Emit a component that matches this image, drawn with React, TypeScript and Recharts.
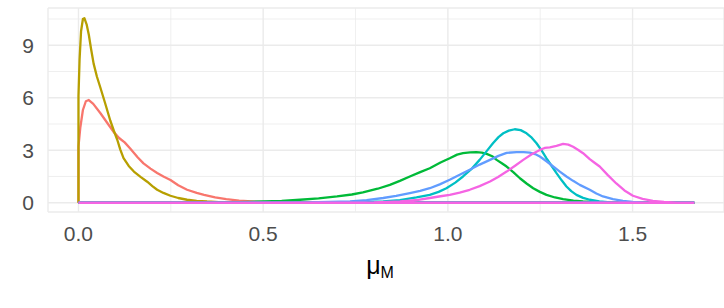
import { LineChart, Line, XAxis, YAxis, CartesianGrid, ReferenceLine } from 'recharts'

// densities of mu_M, one curve per group (ggplot hue palette)
const COLORS = ['#F8766D', '#B79F00', '#00BA38', '#00BFC4', '#619CFF', '#F564E3']

const redPts = [
  [0, 3.2], [0.005, 4.3], [0.012, 5.3], [0.02, 5.8], [0.028, 5.87], [0.04, 5.65], [0.06, 5.1],
  [0.08, 4.5], [0.095, 4.05], [0.11, 3.7], [0.125, 3.45], [0.14, 3.1], [0.16, 2.6], [0.176, 2.25],
  [0.195, 1.95], [0.213, 1.7], [0.23, 1.5], [0.249, 1.3], [0.27, 1.0], [0.294, 0.74], [0.32, 0.56],
  [0.34, 0.45], [0.37, 0.3], [0.4, 0.2], [0.435, 0.12], [0.47, 0.07], [0.51, 0.03], [0.55, 0.01],
]
const olivePts = [
  [0, 6.1], [0.003, 8.2], [0.007, 9.8], [0.012, 10.5], [0.016, 10.55], [0.022, 10.2], [0.028, 9.6],
  [0.034, 8.8], [0.041, 7.95], [0.05, 7.2], [0.059, 6.6], [0.072, 5.7], [0.086, 4.7], [0.096, 4.1],
  [0.105, 3.6], [0.113, 3.05], [0.122, 2.55], [0.136, 2.1], [0.15, 1.78], [0.168, 1.48],
  [0.186, 1.2], [0.2, 0.95], [0.213, 0.74], [0.23, 0.56], [0.249, 0.4], [0.27, 0.27],
  [0.294, 0.17], [0.32, 0.11], [0.348, 0.07], [0.38, 0.04], [0.42, 0.01],
]
const greenPts = [
  [0.3, 0], [0.4, 0.02], [0.465, 0.05], [0.55, 0.11], [0.6, 0.17], [0.65, 0.25], [0.7, 0.36],
  [0.74, 0.47], [0.77, 0.59], [0.81, 0.8], [0.843, 1.02], [0.87, 1.25], [0.897, 1.5], [0.925, 1.75],
  [0.951, 1.97], [0.98, 2.3], [1.005, 2.54], [1.025, 2.75], [1.041, 2.83], [1.06, 2.88],
  [1.077, 2.89], [1.092, 2.86], [1.105, 2.79], [1.12, 2.66], [1.132, 2.45], [1.146, 2.26],
  [1.159, 2.07], [1.177, 1.75], [1.195, 1.4], [1.213, 1.1], [1.231, 0.83], [1.249, 0.62],
  [1.267, 0.45], [1.29, 0.3], [1.312, 0.2], [1.34, 0.12], [1.366, 0.07], [1.4, 0.03], [1.44, 0.01],
]
const cyanPts = [
  [0.65, 0], [0.75, 0.02], [0.825, 0.07], [0.87, 0.15], [0.915, 0.3], [0.951, 0.45], [0.975, 0.62],
  [0.996, 0.83], [1.02, 1.15], [1.041, 1.5], [1.065, 1.95], [1.086, 2.45], [1.105, 2.95],
  [1.122, 3.4], [1.137, 3.75], [1.15, 3.97], [1.165, 4.12], [1.181, 4.2], [1.197, 4.15],
  [1.213, 3.97], [1.227, 3.72], [1.24, 3.4], [1.254, 2.98], [1.267, 2.54], [1.281, 2.1],
  [1.294, 1.69], [1.308, 1.28], [1.321, 0.93], [1.334, 0.66], [1.348, 0.45], [1.366, 0.28],
  [1.384, 0.17], [1.41, 0.07], [1.44, 0.02],
]
const bluePts = [
  [0.5, 0], [0.62, 0.02], [0.735, 0.07], [0.78, 0.15], [0.825, 0.27], [0.86, 0.39], [0.897, 0.55],
  [0.925, 0.68], [0.951, 0.83], [0.978, 1.05], [1.005, 1.31], [1.032, 1.6], [1.059, 1.88],
  [1.086, 2.18], [1.114, 2.45], [1.137, 2.68], [1.159, 2.85], [1.186, 2.89], [1.205, 2.89],
  [1.222, 2.86], [1.236, 2.78], [1.249, 2.64], [1.267, 2.37], [1.285, 2.07], [1.303, 1.78],
  [1.321, 1.5], [1.339, 1.25], [1.357, 1.02], [1.384, 0.74], [1.402, 0.53], [1.42, 0.36],
  [1.447, 0.2], [1.474, 0.11], [1.5, 0.05], [1.53, 0.01],
]
const magentaPts = [
  [0.7, 0], [0.8, 0.02], [0.87, 0.07], [0.92, 0.16], [0.951, 0.27], [0.98, 0.37], [1.005, 0.45],
  [1.032, 0.58], [1.059, 0.74], [1.086, 0.95], [1.114, 1.21], [1.136, 1.47], [1.159, 1.78],
  [1.181, 2.1], [1.204, 2.45], [1.227, 2.77], [1.249, 3.02], [1.262, 3.13], [1.276, 3.17],
  [1.294, 3.25], [1.312, 3.36], [1.326, 3.32], [1.339, 3.2], [1.352, 3.03], [1.366, 2.83],
  [1.384, 2.49], [1.398, 2.27], [1.411, 2.07], [1.433, 1.58], [1.456, 1.1], [1.478, 0.7],
  [1.501, 0.4], [1.527, 0.22], [1.555, 0.11], [1.585, 0.05], [1.62, 0.01],
]

const X_MIN = 0
const X_MAX = 1.665
const xTicks = [0, 0.5, 1, 1.5]
const yTicks = [0, 3, 6, 9]
const xMinor = [0.25, 0.75, 1.25]
const yMinor = [1.5, 4.5, 7.5, 10.5]

// geom_density draws a closed outline: baseline -> curve -> baseline
const outline = (pts: number[][]) =>
  [[X_MIN, 0], ...pts, [X_MAX, 0], [X_MIN, 0]].map(([x, y]) => ({ x, y }))

const series = [redPts, olivePts, greenPts, cyanPts, bluePts, magentaPts].map(outline)

const FONT = '"Liberation Sans", Arial, sans-serif'

const AxisTitle = (props: any) => {
  const { viewBox } = props
  const cx = viewBox.x + viewBox.width / 2 - 6
  return (
    <text x={cx} y={274} textAnchor="middle" fontFamily={FONT} fill="#000">
      <tspan fontSize={25}>μ</tspan>
      <tspan fontSize={16} dy={4}>M</tspan>
    </text>
  )
}

export default function App() {
  return (
    <div style={{ position: 'absolute', left: 0, top: 0, width: 724, height: 308, background: '#fff' }}>
      <LineChart width={724} height={308} margin={{ top: 8, right: 0, bottom: 56, left: 0 }}>
        <CartesianGrid stroke="#EBEBEB" strokeWidth={1.4} />
        {xMinor.map(v => (
          <ReferenceLine key={`vx${v}`} x={v} stroke="#EBEBEB" strokeWidth={0.8} />
        ))}
        {yMinor.map(v => (
          <ReferenceLine key={`hy${v}`} y={v} stroke="#EBEBEB" strokeWidth={0.8} />
        ))}
        <XAxis
          type="number"
          dataKey="x"
          domain={[-0.0825, 1.7475]}
          ticks={xTicks}
          tickFormatter={(v: number) => v.toFixed(1)}
          axisLine={false}
          tickLine={false}
          tickMargin={8}
          height={40}
          allowDataOverflow
          tick={{ fill: '#4D4D4D', fontSize: 21, fontFamily: FONT }}
          label={<AxisTitle />}
        />
        <YAxis
          type="number"
          domain={[-0.53, 11.13]}
          ticks={yTicks}
          axisLine={false}
          tickLine={false}
          tickMargin={8}
          width={48}
          allowDataOverflow
          tick={{ fill: '#4D4D4D', fontSize: 21, fontFamily: FONT }}
        />
        {series.map((d, i) => (
          <Line
            key={COLORS[i]}
            data={d}
            dataKey="y"
            type="linear"
            stroke={COLORS[i]}
            strokeWidth={2.3}
            strokeLinejoin="round"
            dot={false}
            activeDot={false}
            isAnimationActive={false}
          />
        ))}
      </LineChart>
    </div>
  )
}
